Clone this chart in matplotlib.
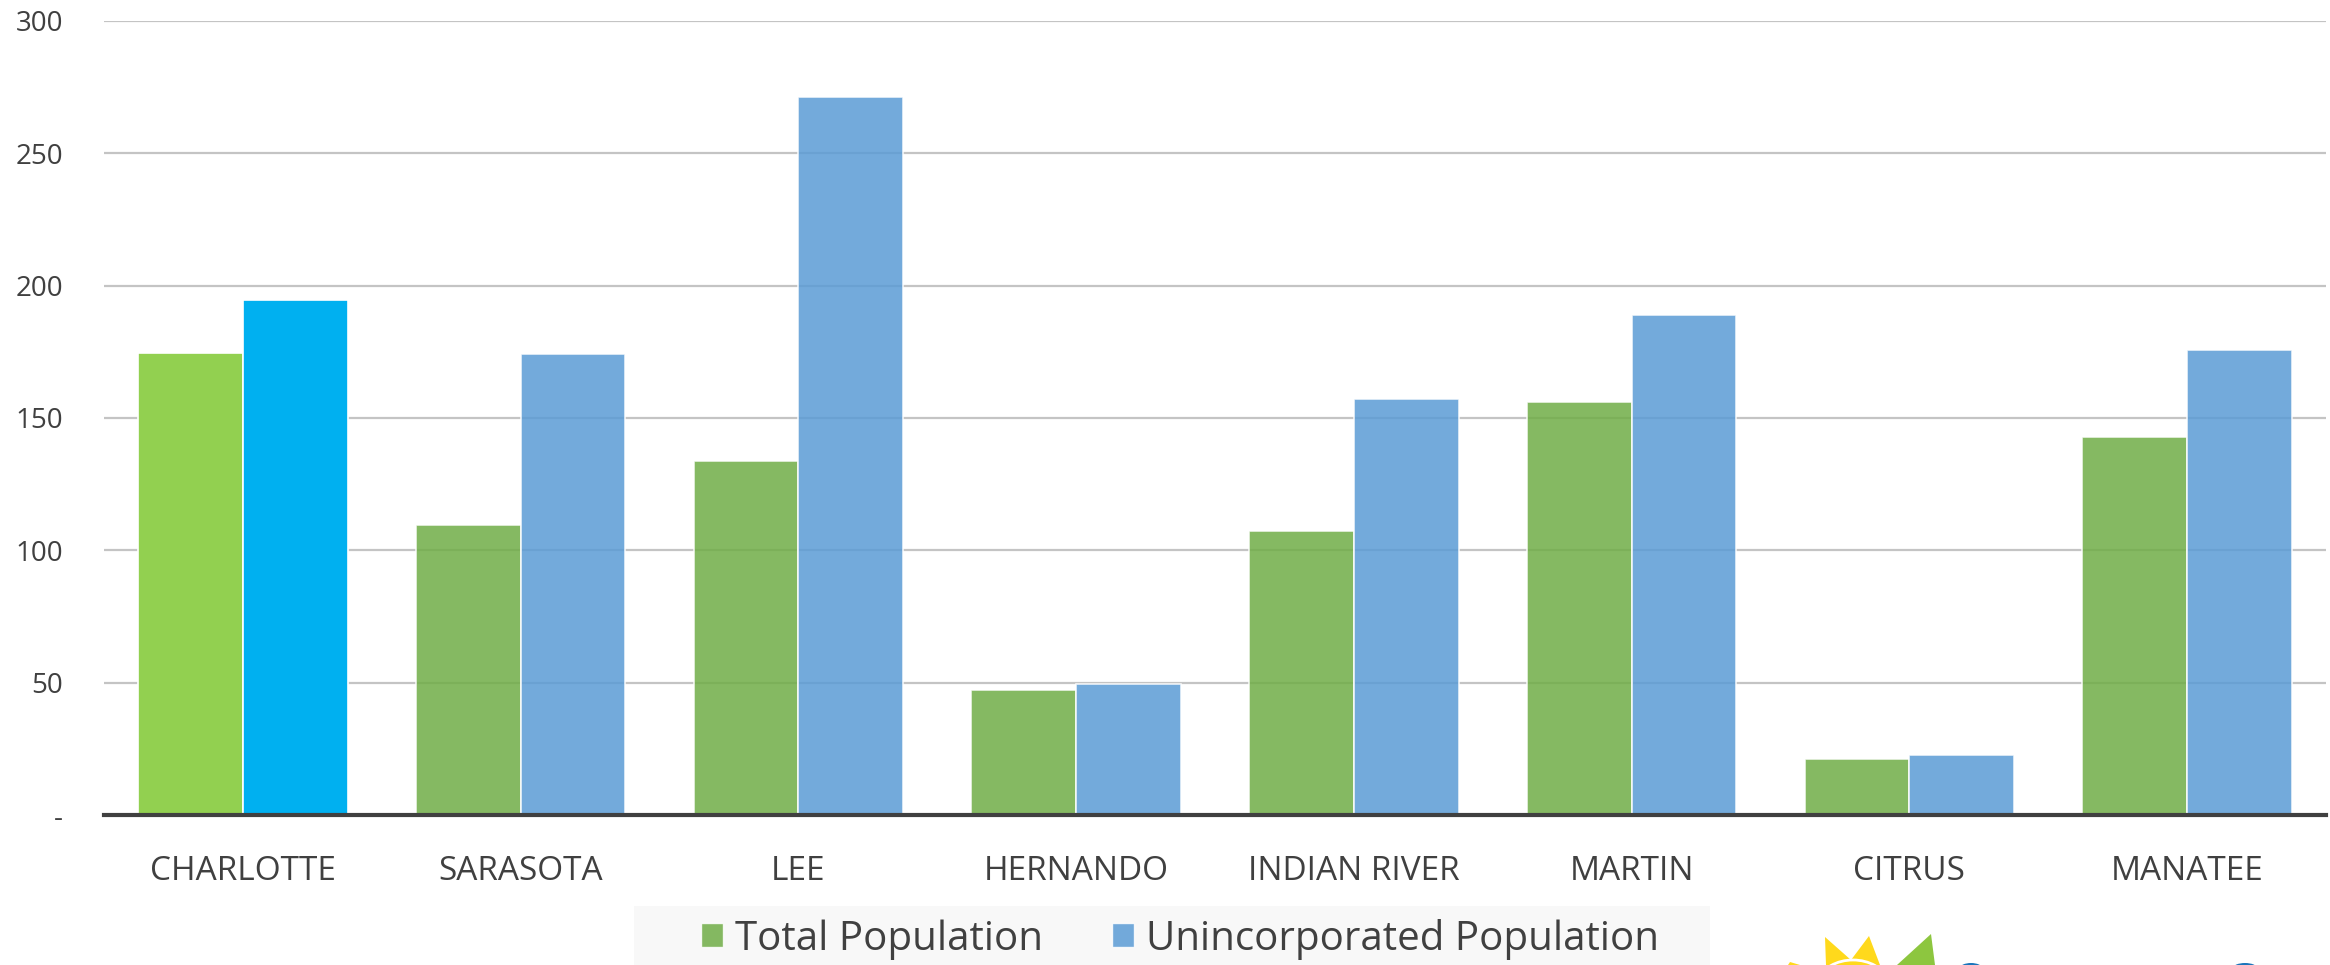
import matplotlib.pyplot as plt
import matplotlib.patches as mpatches
import numpy as np

counties = ["CHARLOTTE", "SARASOTA", "LEE", "HERNANDO", "INDIAN RIVER", "MARTIN", "CITRUS", "MANATEE"]
total_pop = [174.7, 109.6, 133.7, 47.2, 107.3, 156.2, 21.3, 142.7]
unincorporated_pop = [194.4, 174.2, 271.3, 49.4, 157.3, 188.8, 22.5, 175.8]
y_ticks = [0, 50, 100, 150, 200, 250, 300]
y_tick_labels = ["-", "50", "100", "150", "200", "250", "300"]

green = "#70AD47"
blue = "#5B9BD5"
green_hi = "#92D050"
blue_hi = "#00B0F0"
text_grey = "#404040"

fig = plt.figure(figsize=(23.3, 9.65), dpi=100)
ax = fig.add_axes([104 / 2330, 150 / 965, (2326 - 104) / 2330, (815 - 21) / 965])

x = np.arange(len(counties))
w = 0.377
g_colors = [green_hi] + [green] * (len(counties) - 1)
b_colors = [blue_hi] + [blue] * (len(counties) - 1)
alphas = [1.0] + [0.85] * (len(counties) - 1)

for i in range(len(counties)):
    ax.bar(x[i] - w / 2, total_pop[i], w, color=g_colors[i], alpha=alphas[i],
           edgecolor="white", linewidth=1.2, zorder=2)
    ax.bar(x[i] + w / 2, unincorporated_pop[i], w, color=b_colors[i], alpha=alphas[i],
           edgecolor="white", linewidth=1.2, zorder=2)

ax.set_xlim(-0.5, 7.5)
ax.set_ylim(0, 300)
ax.set_yticks(y_ticks)
ax.set_yticklabels(y_tick_labels, fontsize=20, color=text_grey, family="Open Sans")
ax.set_xticks(x)
ax.set_xticklabels(counties, fontsize=24, color=text_grey, family="Open Sans")
ax.tick_params(axis="both", length=0)
ax.tick_params(axis="x", pad=28.5)
ax.tick_params(axis="y", pad=29.5)

ax.grid(axis="y", color="#c4c4c4", linewidth=1.6, zorder=0)
ax.set_axisbelow(True)
for s in ["top", "right", "left"]:
    ax.spines[s].set_visible(False)
ax.spines["bottom"].set_color("#404040")
ax.spines["bottom"].set_linewidth(3)
ax.spines["bottom"].set_zorder(3)

# legend band
fig.patches.append(mpatches.Rectangle((634 / 2330, 0), (1710 - 634) / 2330, 59 / 965,
                                      transform=fig.transFigure, facecolor="#f8f8f8",
                                      edgecolor="none", zorder=0))
handles = [mpatches.Patch(facecolor=green, edgecolor="white", alpha=0.85, label="Total Population"),
           mpatches.Patch(facecolor=blue, edgecolor="white", alpha=0.85, label="Unincorporated Population")]
fig.legend(handles=handles, loc="center", bbox_to_anchor=(1180 / 2330, 26 / 965), ncol=2,
           frameon=False, prop={"family": "Open Sans", "size": 29},
           handlelength=0.55, handleheight=0.55, handletextpad=0.3, columnspacing=1.7,
           labelcolor=text_grey)

# logo fragment at the bottom right
def fx(px):
    return px / 2330

def fy(py):
    return 1 - py / 965

logo = [
    mpatches.Polygon([(fx(1826), fy(965)), (fx(1825), fy(937)), (fx(1851), fy(960)),
                      (fx(1869), fy(936)), (fx(1880), fy(965))], closed=True,
                     facecolor="#FFD91C", edgecolor="none"),
    mpatches.Polygon([(fx(1788), fy(965)), (fx(1790), fy(962)), (fx(1800), fy(965))], closed=True,
                     facecolor="#FFD91C", edgecolor="none"),
    mpatches.Polygon([(fx(1897), fy(965)), (fx(1931), fy(934)), (fx(1935), fy(965))], closed=True,
                     facecolor="#8DC63F", edgecolor="none"),
    mpatches.Ellipse((fx(1971), fy(968)), 22 / 2330, 10 / 965, facecolor="#1B75BB", edgecolor="none"),
    mpatches.Ellipse((fx(2245), fy(968)), 24 / 2330, 10 / 965, facecolor="#1B75BB", edgecolor="none"),
]
for p in logo:
    p.set_transform(fig.transFigure)
    fig.patches.append(p)
fig.patches.append(mpatches.Arc((fx(1853), fy(985)), 70 / 2330, 50 / 965, theta1=20, theta2=160,
                                color="white", linewidth=2, transform=fig.transFigure))

fig.savefig("out.png", dpi=100)
